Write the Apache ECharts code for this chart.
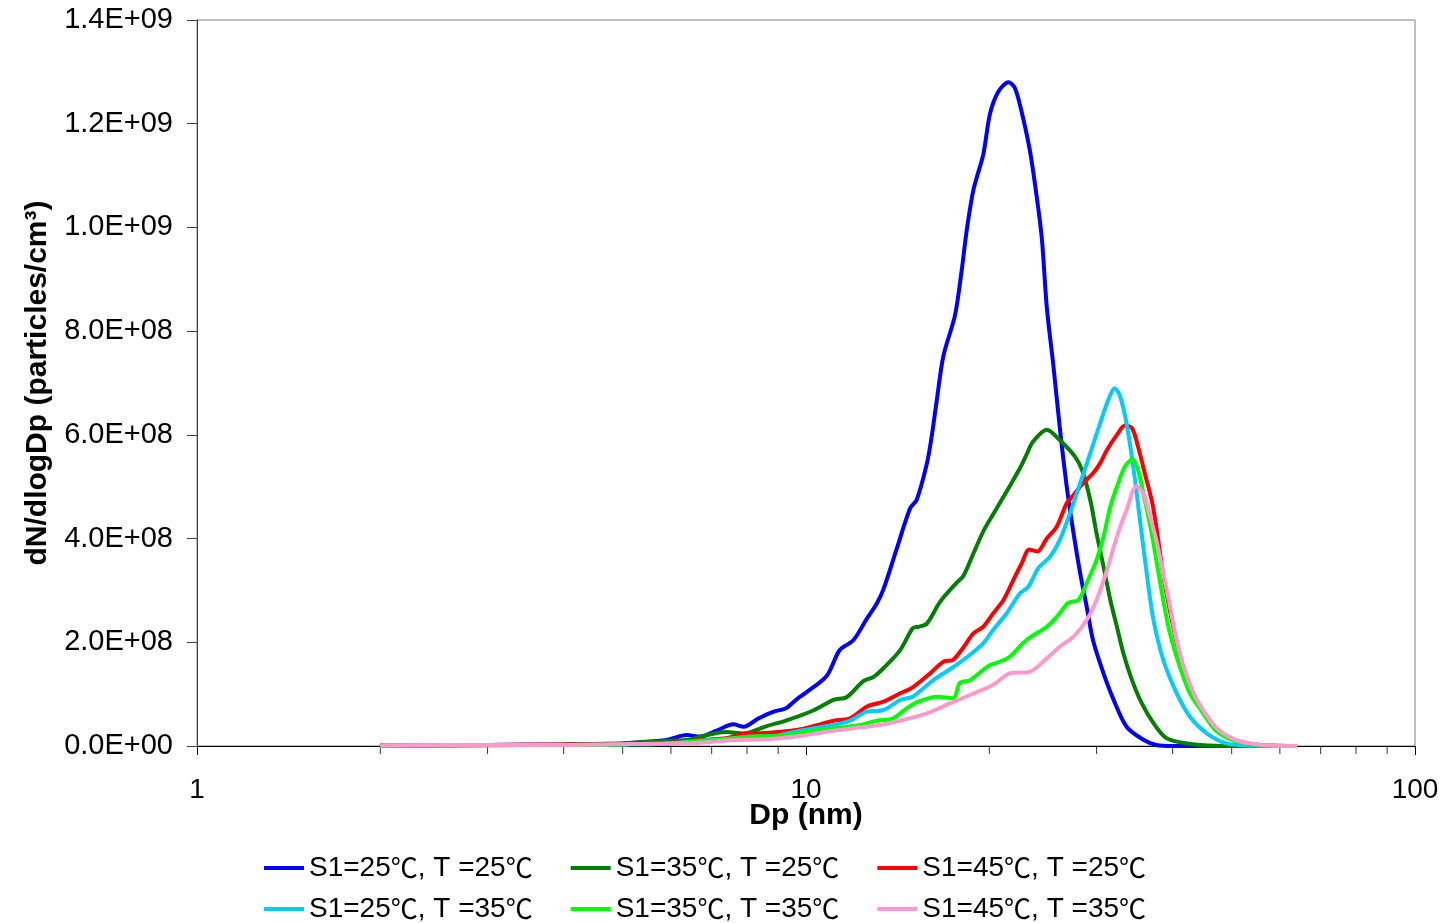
<!DOCTYPE html>
<html>
<head>
<meta charset="utf-8">
<script src="https://cdn.jsdelivr.net/npm/echarts@6/dist/echarts.min.js"></script>
<style>
html,body{margin:0;padding:0;background:#fff;}
#chart{width:1445px;height:923px;}
</style>
</head>
<body>
<div id="chart"></div>
<script>
// ---- Data (Dp in nm, dN/dlogDp in particles/cm3) ----
const seriesNames = ['S1=25℃, T =25℃','S1=35℃, T =25℃','S1=45℃, T =25℃','S1=25℃, T =35℃','S1=35℃, T =35℃','S1=45℃, T =35℃'];
const seriesColors = ['#0000FF','#008000','#FF0000','#00CCFF','#00FF00','#FF99CC'];

const blueDp = [2.0,3.0,4.0,5.0,5.2,5.9,6.37,6.7,7.13,7.6,7.9,8.35,8.83,9.27,9.65,10.0,10.81,11.36,11.96,12.58,13.07,13.4,14.09,14.82,15.2,15.79,16.08,16.39,16.81,17.56,18.01,18.36,18.83,19.55,20.05,20.7,21.5,22.0,22.46,23.3,23.9,24.4,24.85,25.5,26.1,26.8,27.5,28.2,28.9,29.6,30.8,32.0,33.6,35.8,37.6,40,50,64];
const blueN  = [1e6,2e6,3e6,5e6,6.4e6,11.6e6,21e6,18e6,29.5e6,42e6,37e6,53e6,66e6,73e6,90e6,103e6,0.135e9,0.185e9,0.204e9,0.245e9,0.275e9,0.302e9,0.38e9,0.458e9,0.475e9,0.544e9,0.596e9,0.665e9,0.752e9,0.83e9,0.916e9,0.994e9,1.072e9,1.141e9,1.219e9,1.262e9,1.28e9,1.27e9,1.236e9,1.15e9,1.063e9,0.977e9,0.847e9,0.73e9,0.615e9,0.50e9,0.41e9,0.333e9,0.269e9,0.204e9,0.14e9,0.089e9,0.037e9,0.012e9,0.002e9,0,0,0];

const dgreenDp = [2.0,3.0,4.0,5.0,5.9,6.45,6.7,7.4,7.9,8.6,9.27,10.3,11.1,11.66,12.42,12.9,13.4,14.28,14.97,15.3,15.79,16.6,17.68,18.13,18.83,19.55,20.56,21.6,22.46,23.0,23.6,24.85,26.1,27.65,28.4,29.3,30.0,30.8,31.6,32.4,33.2,34.3,35.6,37.2,39.1,42.7,47,55,64];
const dgreenN  = [1e6,2e6,3e6,5e6,10e6,12e6,18e6,27e6,24e6,38e6,49e6,69e6,89e6,94e6,0.125e9,0.133e9,0.15e9,0.185e9,0.227e9,0.23e9,0.236e9,0.278e9,0.315e9,0.328e9,0.371e9,0.414e9,0.458e9,0.501e9,0.536e9,0.561e9,0.587e9,0.61e9,0.59e9,0.558e9,0.532e9,0.474e9,0.41e9,0.346e9,0.2815e9,0.23e9,0.179e9,0.127e9,0.082e9,0.044e9,0.015e9,0.004e9,0.0006e9,0,0];

const redDp = [2.0,3.0,4.0,5.0,6.0,6.7,7.4,8.0,8.35,9.06,9.65,10.3,11.1,11.81,12.58,13.4,14.28,14.97,15.99,16.81,17.43,18.13,18.83,19.55,20.3,21.1,21.9,22.6,23.26,23.98,24.85,25.8,26.8,27.5,28.53,29.6,30.4,31.2,32.4,33.4,34.3,35.1,36.0,36.95,37.6,38.6,39.6,40.6,41.7,43.3,44.9,47,50.1,53.5,58,64];
const redN  = [1e6,2e6,3e6,4e6,6e6,11.6e6,14.8e6,24.5e6,24.5e6,27.6e6,30.9e6,38.6e6,48.8e6,53.4e6,75.8e6,85.5e6,0.1016e9,0.1132e9,0.14e9,0.1626e9,0.166e9,0.19e9,0.2173e9,0.23e9,0.256e9,0.2815e9,0.32e9,0.352e9,0.379e9,0.375e9,0.40e9,0.423e9,0.468e9,0.484e9,0.507e9,0.526e9,0.545e9,0.571e9,0.60e9,0.618e9,0.613e9,0.577e9,0.526e9,0.474e9,0.423e9,0.33e9,0.26e9,0.20e9,0.148e9,0.098e9,0.066e9,0.035e9,0.013e9,0.004e9,0.001e9,0];

const cyanDp = [2.0,3.0,4.0,5.0,6.0,6.7,7.5,8.0,8.83,9.78,10.3,11.1,11.81,12.58,13.4,14.28,14.97,16.18,17.24,18.36,19.55,20.3,21.36,22.46,23.18,24.07,25.16,26.1,27.13,28.2,29.3,30.4,31.36,32.1,32.8,33.6,34.46,35.35,36.26,37.2,38.6,40.6,42.7,45.5,49,53,64];
const cyanN  = [1e6,1.5e6,2e6,3e6,5e6,10.2e6,14e6,18e6,19.3e6,29.5e6,34.1e6,40.5e6,48.8e6,66.2e6,69.4e6,88.7e6,95.1e6,0.127e9,0.148e9,0.171e9,0.198e9,0.224e9,0.256e9,0.2945e9,0.307e9,0.343e9,0.365e9,0.397e9,0.449e9,0.507e9,0.565e9,0.622e9,0.667e9,0.69e9,0.674e9,0.622e9,0.539e9,0.436e9,0.333e9,0.243e9,0.166e9,0.102e9,0.0565e9,0.0245e9,0.005e9,0.001e9,0];

const limeDp = [2.0,3.0,4.0,5.0,6.0,7.13,8.1,9.06,10.0,11.1,12.27,13.07,13.9,14.63,15.3,16.39,17.43,17.9,18.6,19.55,20.05,20.85,21.6,23.0,24.85,25.8,26.97,28.0,28.9,30.0,30.8,31.6,32.4,33.4,34.4,35.1,36.0,36.95,37.6,38.6,39.6,41.1,42.7,44.9,47,50.1,53.5,58,64];
const limeN  = [1e6,1.5e6,2e6,3e6,5e6,11.6e6,18e6,19.3e6,27.6e6,34.1e6,40.5e6,48.8e6,53.4e6,72.7e6,85.5e6,95.1e6,92e6,0.122e9,0.127e9,0.147e9,0.156e9,0.163e9,0.172e9,0.204e9,0.23e9,0.249e9,0.276e9,0.2815e9,0.314e9,0.359e9,0.404e9,0.4615e9,0.50e9,0.539e9,0.553e9,0.532e9,0.474e9,0.41e9,0.359e9,0.2815e9,0.217e9,0.153e9,0.1016e9,0.063e9,0.031e9,0.0116e9,0.004e9,0.001e9,0];

const pinkDp = [2.0,3.0,4.0,5.2,6.7,7.6,8.6,9.78,10.81,11.96,13.2,14.28,15.79,17.24,18.6,20.3,21.6,23.3,24.85,26.1,27.5,28.9,30.0,31.2,32.4,33.6,34.9,35.8,36.6,37.6,38.6,39.6,40.6,41.7,43.3,44.9,47,50.1,53.5,58,64];
const pinkN  = [1e6,2e6,2e6,4e6,6.4e6,11.6e6,12.9e6,19.3e6,27.6e6,34.1e6,40.5e6,48.8e6,63e6,82.3e6,98.4e6,0.118e9,0.14e9,0.143e9,0.169e9,0.1915e9,0.211e9,0.243e9,0.2815e9,0.339e9,0.404e9,0.455e9,0.501e9,0.487e9,0.449e9,0.397e9,0.333e9,0.269e9,0.204e9,0.153e9,0.1016e9,0.069e9,0.037e9,0.0148e9,0.005e9,0.001e9,0];

const minorTickValues = [2,3,4,5,6,7,8,9,20,30,40,50,60,70,80,90];

// ---- Build ----
const allDp = [blueDp, dgreenDp, redDp, cyanDp, limeDp, pinkDp];
const allN  = [blueN, dgreenN, redN, cyanN, limeN, pinkN];

function fmtE(v){
  if (v === 0) return '0.0E+00';
  const e = Math.floor(Math.log10(v) + 1e-9);
  const m = v / Math.pow(10, e);
  return m.toFixed(1) + 'E+' + String(e).padStart(2, '0');
}

const FONT = '"Liberation Sans", Arial, sans-serif';

const lineSeries = seriesNames.map((name, i) => ({
  name: name,
  type: 'line',
  data: allDp[i].map((d, j) => [d, allN[i][j]]),
  symbol: 'none',
  smooth: 0.3,
  lineStyle: { color: seriesColors[i], width: 4 },
  itemStyle: { color: seriesColors[i] },
  z: 3 + i
}));

const tickSeries = {
  name: 'minorTicks',
  type: 'scatter',
  data: minorTickValues.map(v => [v, 0]),
  symbol: 'rect',
  symbolSize: [1, 8],
  symbolOffset: [0, 4],
  itemStyle: { color: '#000' },
  silent: true,
  clip: false,
  z: 1
};

function legendDef(names, top){
  return {
    data: names,
    left: 259,
    top: top,
    orient: 'horizontal',
    icon: 'rect',
    itemWidth: 40,
    itemHeight: 4,
    itemGap: 38,
    selectedMode: false,
    formatter: n => n.replace(/℃/g, '{c|℃}'),
    textStyle: {
      fontFamily: FONT, fontSize: 28, color: '#000', lineHeight: 30,
      rich: { c: { fontFamily: '"Noto Sans CJK SC", sans-serif', fontSize: 27, color: '#000', lineHeight: 30 } }
    }
  };
}

const chart = echarts.init(document.getElementById('chart'), null, { renderer: 'canvas' });
chart.setOption({
  animation: false,
  backgroundColor: '#fff',
  textStyle: { fontFamily: FONT },
  grid: { left: 197, right: 30, top: 20, bottom: 177, show: true, borderColor: '#808080', borderWidth: 1, backgroundColor: 'transparent' },
  xAxis: {
    type: 'log',
    logBase: 10,
    min: 1,
    max: 100,
    name: 'Dp (nm)',
    nameLocation: 'middle',
    nameGap: 55,
    nameMoveOverlap: false,
    nameTextStyle: { fontFamily: FONT, fontSize: 30, fontWeight: 'bold', color: '#000' },
    axisLine: { show: true, lineStyle: { color: '#000', width: 1 } },
    axisTick: { show: true, inside: false, length: 9, lineStyle: { color: '#000' } },
    axisLabel: { margin: 30, fontFamily: FONT, fontSize: 28, color: '#000' },
    splitLine: { show: false },
    minorTick: { show: false },
    minorSplitLine: { show: false }
  },
  yAxis: {
    type: 'value',
    min: 0,
    max: 1.4e9,
    interval: 2e8,
    name: 'dN/dlogDp (particles/cm³)',
    nameLocation: 'middle',
    nameRotate: 90,
    nameGap: 144,
    nameMoveOverlap: false,
    nameTextStyle: { fontFamily: FONT, fontSize: 30, fontWeight: 'bold', color: '#000' },
    axisLine: { show: true, lineStyle: { color: '#404040', width: 1 } },
    axisTick: { show: true, inside: false, length: 10, lineStyle: { color: '#404040' } },
    axisLabel: { margin: 24, fontFamily: FONT, fontSize: 29, color: '#000', formatter: fmtE },
    splitLine: { show: false }
  },
  legend: [
    legendDef(seriesNames.slice(0, 3), 848),
    legendDef(seriesNames.slice(3, 6), 889)
  ],
  series: lineSeries.concat([tickSeries])
});
</script>
</body>
</html>
